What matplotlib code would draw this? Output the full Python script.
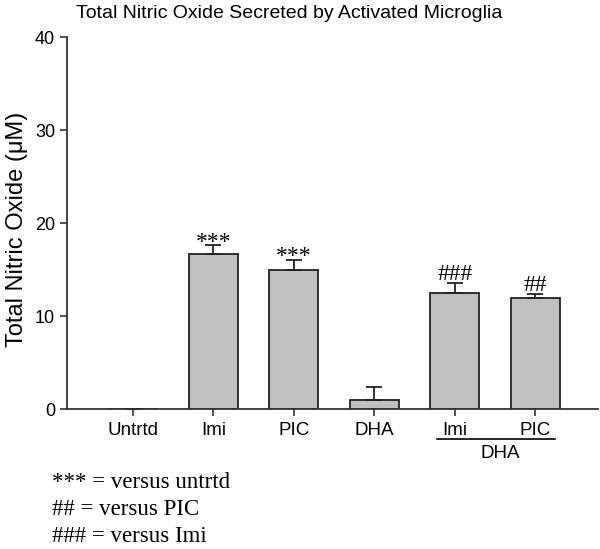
import matplotlib.pyplot as plt
import numpy as np

plt.rcParams['font.family'] = ['Liberation Sans', 'DejaVu Sans']

groups = ['Untrtd', 'Imi', 'PIC', 'DHA', 'Imi', 'PIC']
means = [0.0, 16.7, 14.95, 0.95, 12.5, 11.9]
errs = [0.0, 0.9, 1.1, 1.4, 1.1, 0.5]
marks = ['', '***', '***', '', '###', '##']
notes = ['*** = versus untrtd', '## = versus PIC', '### = versus Imi']

fig = plt.figure(figsize=(6, 5.49), dpi=100)
ax = fig.add_axes([0.1117, 0.255, 0.885, 0.6776])

x = np.arange(len(groups))
ax.bar(x, means, width=0.61, color='#c0c0c0', edgecolor='#222222', linewidth=1.3)
ax.errorbar(x, means, yerr=[np.zeros(len(errs)), errs], fmt='none',
            ecolor='#222222', elinewidth=1.3, capsize=6, capthick=1.3)

for xi, m, e, s in zip(x, means, errs, marks):
    if s:
        off = -0.25 if s.startswith('*') else 0.3
        ax.text(xi, m + e + off, s, ha='center', va='baseline',
                family=['Liberation Serif'], fontsize=17)

ax.set_xlim(-0.82, 5.78)
ax.set_ylim(0, 40)
ax.set_yticks([0, 10, 20, 30, 40])
ax.set_xticks(x)
ax.set_xticklabels(groups, fontsize=13.5)
ax.tick_params(axis='y', labelsize=13, direction='out', length=5, width=1.2, color='#333333')
ax.tick_params(axis='x', direction='out', length=5, width=1.2, color='#333333', pad=4)
for side in ['top', 'right']:
    ax.spines[side].set_visible(False)
for side in ['left', 'bottom']:
    ax.spines[side].set_linewidth(1.3)
    ax.spines[side].set_color('#333333')

ax.set_ylabel('Total Nitric Oxide (\u03bcM)', fontsize=17)
ax.yaxis.set_label_coords(-0.074, 0.4825)
ax.set_title('Total Nitric Oxide Secreted by Activated Microglia', fontsize=14,
             x=0.418, pad=14)

# DHA group bracket under the last two bars
ax.plot([3.78, 5.25], [-3.23, -3.23], color='black', linewidth=1.2, clip_on=False)
ax.text(4.56, -4.75, 'DHA', ha='center', va='center', fontsize=13.5)

for i, t in enumerate(notes):
    fig.text(0.086, 0.122 - i * 0.0495, t, ha='left', va='center',
             family=['Liberation Serif'], fontsize=16.5)

fig.savefig('out.png', dpi=100)
